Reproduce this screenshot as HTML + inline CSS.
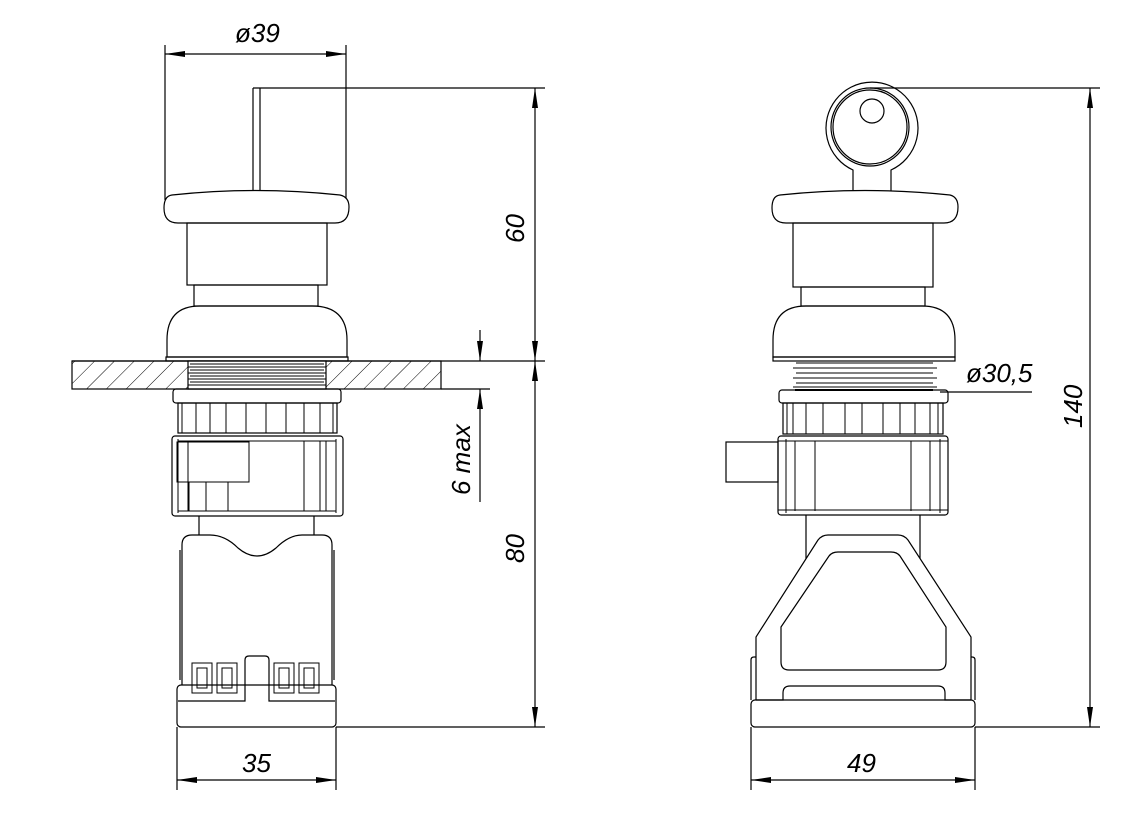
<!DOCTYPE html>
<html><head><meta charset="utf-8"><style>html,body{margin:0;padding:0;background:#fff}svg{display:block}text{font-family:"Liberation Sans",sans-serif;font-style:italic;font-size:26px;fill:#000}</style></head>
<body>
<svg width="1145" height="830" viewBox="0 0 1145 830" xmlns="http://www.w3.org/2000/svg">
<defs>
<pattern id="h" width="14" height="14" patternUnits="userSpaceOnUse" patternTransform="rotate(45)"><line x1="0" y1="0" x2="0" y2="14" stroke="#000" stroke-width="1"/></pattern>
<marker id="a" viewBox="0 0 20 6" refX="20" refY="3" markerWidth="20" markerHeight="6" markerUnits="userSpaceOnUse" orient="auto-start-reverse"><path d="M0,0 L20,3 L0,6 z" fill="#000"/></marker>
</defs>
<g fill="none" stroke="#000" stroke-width="1.2">
<!-- LEFT VIEW -->
<line x1="165" y1="45" x2="165" y2="200"/><line x1="346" y1="45" x2="346" y2="200"/>
<line x1="165" y1="54" x2="346" y2="54" marker-start="url(#a)" marker-end="url(#a)"/>
<line x1="253" y1="88" x2="253" y2="193"/><line x1="260" y1="88" x2="260" y2="193"/><line x1="253" y1="88" x2="545" y2="88"/>
<path d="M172,195 Q255,186 340,195 Q349,197 349,207 Q349,223 335,223 L178,223 Q164,223 164,208 Q164,196 172,195 z" fill="#fff"/>
<rect x="187" y="223" width="140" height="62"/>
<rect x="194" y="285" width="124" height="21"/>
<path d="M167,357 L167,340 Q167,306 200,306 L312,306 Q347,306 347,340 L347,357 z"/>
<rect x="166" y="357" width="182" height="4"/>
<rect x="72" y="361" width="369" height="28" fill="url(#h)"/>
<rect x="188" y="361" width="138" height="28" fill="#fff"/>
<g stroke-width="1"><line x1="190" y1="364" x2="324" y2="364"/><line x1="190" y1="370" x2="324" y2="370"/><line x1="190" y1="376" x2="324" y2="376"/><line x1="190" y1="382" x2="324" y2="382"/><line x1="188" y1="367" x2="326" y2="367"/><line x1="188" y1="373" x2="326" y2="373"/><line x1="188" y1="379" x2="326" y2="379"/><line x1="188" y1="385" x2="326" y2="385"/></g>
<line x1="72" y1="361" x2="545" y2="361"/><line x1="441" y1="389" x2="490" y2="389"/>
<rect x="173" y="389" width="168" height="14" rx="3"/>
<rect x="178" y="403" width="159" height="30"/>
<g stroke-width="1"><path d="M182,403V433M196,403V433M210,403V433M226,403V433M246,403V433M266,403V433M286,403V433M304,403V433M320,403V433M333,403V433"/></g>
<rect x="172" y="436" width="171" height="80" rx="3"/>
<g stroke-width="1"><path d="M178,439V513M188,441V511M326,441V511M336,439V513M178,441H336M178,511H336"/><rect x="177" y="442" width="72" height="40"/><path d="M189,482V511M206,482V511M228,482V511M304,441V511M320,441V511"/></g>
<line x1="199" y1="516" x2="199" y2="535"/><line x1="314" y1="516" x2="314" y2="535"/>
<path d="M182,685 L182,545 Q182,535 192,535 L210,535 Q225,535 238,548 Q257,564 276,548 Q289,535 302,535 L322,535 Q332,535 332,545 L332,685"/>
<line x1="180" y1="550" x2="180" y2="680"/><line x1="334" y1="550" x2="334" y2="680"/>
<rect x="177" y="685" width="159" height="42" rx="4"/>
<path d="M178,701 H245 V660 Q245,656 249,656 L265,656 Q269,656 269,660 V701 H335"/>
<g stroke-width="1">
<rect x="192" y="663" width="20" height="30"/><rect x="197" y="668" width="10" height="20"/>
<rect x="217" y="663" width="20" height="30"/><rect x="222" y="668" width="10" height="20"/>
<rect x="274" y="663" width="20" height="30"/><rect x="279" y="668" width="10" height="20"/>
<rect x="299" y="663" width="20" height="30"/><rect x="304" y="668" width="10" height="20"/>
</g>
<line x1="177" y1="727" x2="177" y2="790"/><line x1="336" y1="727" x2="336" y2="790"/>
<line x1="177" y1="780" x2="336" y2="780" marker-start="url(#a)" marker-end="url(#a)"/>
<line x1="336" y1="727" x2="545" y2="727"/>
<line x1="535" y1="88" x2="535" y2="361" marker-start="url(#a)" marker-end="url(#a)"/>
<line x1="535" y1="361" x2="535" y2="727" marker-start="url(#a)" marker-end="url(#a)"/>
<line x1="480" y1="330" x2="480" y2="361" marker-end="url(#a)"/>
<line x1="480" y1="502" x2="480" y2="389" marker-end="url(#a)"/>
<!-- RIGHT VIEW -->
<line x1="870" y1="88" x2="1100" y2="88"/>
<path d="M853,195 L853,170 A46,46 0 1 1 891,170 L891,195"/>
<circle cx="870" cy="127" r="39"/><circle cx="870" cy="127" r="37"/><circle cx="872" cy="111" r="12"/>
<path d="M780,195 Q865,186 950,195 Q958,197 958,207 Q958,223 944,223 L786,223 Q772,223 772,208 Q772,196 780,195 z" fill="#fff"/>
<rect x="793" y="223" width="140" height="64"/>
<rect x="801" y="287" width="124" height="19"/>
<path d="M773,357 L773,340 Q773,306 806,306 L922,306 Q955,306 955,340 L955,357 z"/>
<rect x="773" y="357" width="182" height="4"/>
<g stroke-width="1"><path d="M796,363 H933 M793,368 H937 M796,373 H933 M793,378 H937 M796,383 H933 M793,387 H937"/></g>
<line x1="795" y1="390" x2="933" y2="390" stroke-width="2"/>
<rect x="779" y="390" width="169" height="13" rx="3"/>
<line x1="940" y1="392" x2="1032" y2="392"/>
<rect x="783" y="403" width="160" height="31"/>
<g stroke-width="1"><path d="M787,403V434M793,403V434M806,403V434M823,403V434M845,403V434M862,403V434M883,403V434M900,403V434M915,403V434M930,403V434M938,403V434"/></g>
<rect x="778" y="436" width="170" height="79" rx="3"/>
<g stroke-width="1"><path d="M778,441H948M778,510H948M786,439V513M795,441V511M815,441V511M911,441V511M930,441V511M940,439V513"/></g>
<rect x="726" y="442" width="52" height="40"/>
<line x1="806" y1="515" x2="806" y2="560"/><line x1="920" y1="515" x2="920" y2="560"/>
<path d="M756,700 L756,637 L818,540 Q822,535 828,535 L898,535 Q904,535 908,540 L971,637 L971,700" fill="#fff"/>
<path d="M781,627 L829,556 Q832,552 838,552 L891,552 Q897,552 900,556 L946,627 L946,662 Q946,670 938,670 L789,670 Q781,670 781,662 z"/>
<path d="M751,700 V660 Q751,657 754,657 H756 M975,700 V660 Q975,657 972,657 H971"/>
<rect x="751" y="700" width="224" height="27" rx="4"/>
<path d="M756,700 H783 V693 Q783,686 790,686 H938 Q945,686 945,693 V700 H971"/>
<line x1="751" y1="727" x2="751" y2="790"/><line x1="975" y1="727" x2="975" y2="790"/>
<line x1="751" y1="780" x2="975" y2="780" marker-start="url(#a)" marker-end="url(#a)"/>
<line x1="975" y1="727" x2="1100" y2="727"/>
<line x1="1090" y1="88" x2="1090" y2="727" marker-start="url(#a)" marker-end="url(#a)"/>
</g>
<text x="235" y="42">ø39</text>
<text x="242" y="772">35</text>
<text x="847" y="772">49</text>
<text x="966" y="382">ø30,5</text>
<text transform="translate(524,243) rotate(-90)">60</text>
<text transform="translate(524,563) rotate(-90)">80</text>
<text transform="translate(470,495) rotate(-90)">6 max</text>
<text transform="translate(1082,428) rotate(-90)">140</text>
</svg>
</body></html>
